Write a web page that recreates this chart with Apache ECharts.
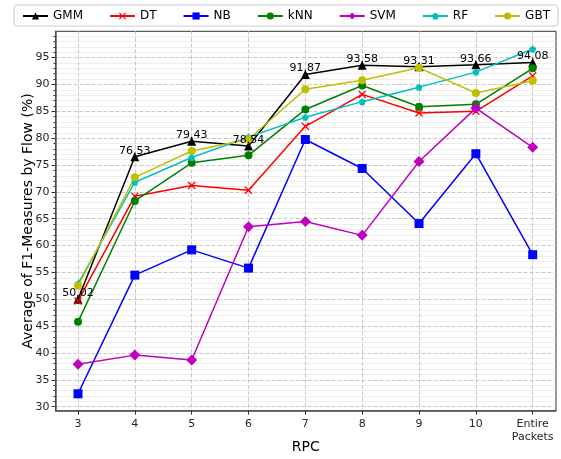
<!DOCTYPE html>
<html><head><meta charset="utf-8">
<script src="https://cdn.jsdelivr.net/npm/echarts@6/dist/echarts.min.js"></script>
<style>html,body{margin:0;padding:0;background:#fff}#c{width:561px;height:459px}</style>
</head><body><div id="c"></div>
<script>
const xPositions = [3, 4, 5, 6, 7, 8, 9, 10, 11];
const xLabels = ['3', '4', '5', '6', '7', '8', '9', '10', 'Entire\nPackets'];
const gmm = [50.02, 76.53, 79.43, 78.54, 91.87, 93.58, 93.31, 93.66, 94.08];
const dt  = [49.7, 69.2, 71.2, 70.3, 82.2, 88.15, 84.7, 85.0, 91.6];
const nb  = [32.4, 54.5, 59.2, 55.8, 79.75, 74.35, 64.1, 77.1, 58.3];
const knn = [45.8, 68.3, 75.4, 76.8, 85.35, 89.8, 85.85, 86.3, 93.0];
const svm = [37.9, 39.6, 38.7, 63.5, 64.5, 61.9, 75.65, 85.6, 78.3];
const rf  = [52.9, 71.8, 76.4, 80.2, 83.9, 86.8, 89.5, 92.3, 96.6];
const gbt = [52.5, 72.7, 77.6, 79.8, 89.1, 90.8, 93.1, 88.4, 90.7];
const yMajor = [30, 35, 40, 45, 50, 55, 60, 65, 70, 75, 80, 85, 90, 95];
const yMinor = [];
for (let v = 30; v <= 99; v++) if (v % 5 !== 0) yMinor.push(v);

const X_MIN = 2.604, X_MAX = 11.41, Y_MIN = 29.25, Y_MAX = 99.9;
const CROSS = 'path://M0,1.2 L1.2,0 L5,3.8 L8.8,0 L10,1.2 L6.2,5 L10,8.8 L8.8,10 L5,6.2 L1.2,10 L0,8.8 L3.8,5 Z';
const PENT = 'path://M5,0 L10,3.8 L8.1,10 L1.9,10 L0,3.8 Z';

function mk(name, arr, color, symbol, size, extra) {
  return Object.assign({
    name: name, type: 'line', data: arr.map((v, i) => [xPositions[i], v]),
    symbol: symbol, symbolSize: size, color: color,
    lineStyle: { width: 1.5, color: color }, itemStyle: { color: color },
    emphasis: { disabled: true }, animation: false
  }, extra || {});
}

const chart = echarts.init(document.getElementById('c'), null, { renderer: 'canvas' });
chart.setOption({
  animation: false,
  textStyle: { fontFamily: 'DejaVu Sans' },
  legend: {
    top: 5, left: 14, itemWidth: 25, itemHeight: 9, itemGap: 26,
    padding: [5, 8, 4, 8], borderColor: '#cccccc', borderWidth: 1, borderRadius: 3,
    textStyle: { fontSize: 12, color: '#000', fontFamily: 'DejaVu Sans' },
    data: ['GMM', 'DT', 'NB', 'kNN', 'SVM', 'RF', 'GBT']
  },
  grid: { left: 55.5, right: 5, top: 31.3, bottom: 48.3, outerBoundsMode: 'none', containLabel: false,
    show: true, borderColor: '#333', borderWidth: 1 },
  xAxis: {
    type: 'value', min: X_MIN, max: X_MAX,
    name: 'RPC', nameLocation: 'middle', nameGap: 30, nameMoveOverlap: false,
    nameTextStyle: { fontSize: 14, color: '#000' },
    axisLine: { show: true, lineStyle: { color: '#555', width: 1.5 } },
    axisTick: { show: true, customValues: xPositions, length: 4, lineStyle: { color: '#333' } },
    axisLabel: { customValues: xPositions, fontSize: 11, color: '#262626', margin: 7, lineHeight: 13,
      formatter: v => xLabels[xPositions.indexOf(Math.round(v))] || '' },
    splitLine: { show: true, lineStyle: { type: 'dashed', color: '#c8c8c8', width: 1 } }
  },
  yAxis: [{
    type: 'value', min: Y_MIN, max: Y_MAX,
    name: 'Average of F1-Measures by Flow (%)', nameLocation: 'middle', nameGap: 20, nameMoveOverlap: false,
    nameTextStyle: { fontSize: 14, color: '#000' },
    axisLine: { show: true, lineStyle: { color: '#555', width: 1.5 } },
    axisTick: { show: true, customValues: yMajor, length: 4, lineStyle: { color: '#333' } },
    axisLabel: { customValues: yMajor, fontSize: 11, color: '#262626', margin: 6 },
    splitLine: { show: true, lineStyle: { type: 'dashed', color: '#c8c8c8', width: 1 } }
  }, {
    type: 'value', min: Y_MIN, max: Y_MAX, position: 'left',
    axisLine: { show: false },
    axisTick: { show: true, customValues: yMinor, length: 2, lineStyle: { color: '#333' } },
    axisLabel: { show: false, customValues: yMinor },
    splitLine: { show: true, lineStyle: { type: 'dotted', color: '#dddddd', width: 1 } }
  }],
  series: [
    mk('GMM', gmm, '#000000', 'triangle', 9, {
      label: { show: true, position: 'top', distance: -4, fontSize: 11, color: '#000',
        formatter: p => p.value[1].toFixed(2) }, z: 3 }),
    mk('DT', dt, '#ff0000', CROSS, 8),
    mk('NB', nb, '#0000ff', 'rect', 9),
    mk('kNN', knn, '#008000', 'circle', 8),
    mk('SVM', svm, '#bf00bf', 'diamond', 11),
    mk('RF', rf, '#00bfbf', PENT, 7),
    mk('GBT', gbt, '#bfbf00', 'circle', 8)
  ]
});
</script></body></html>
